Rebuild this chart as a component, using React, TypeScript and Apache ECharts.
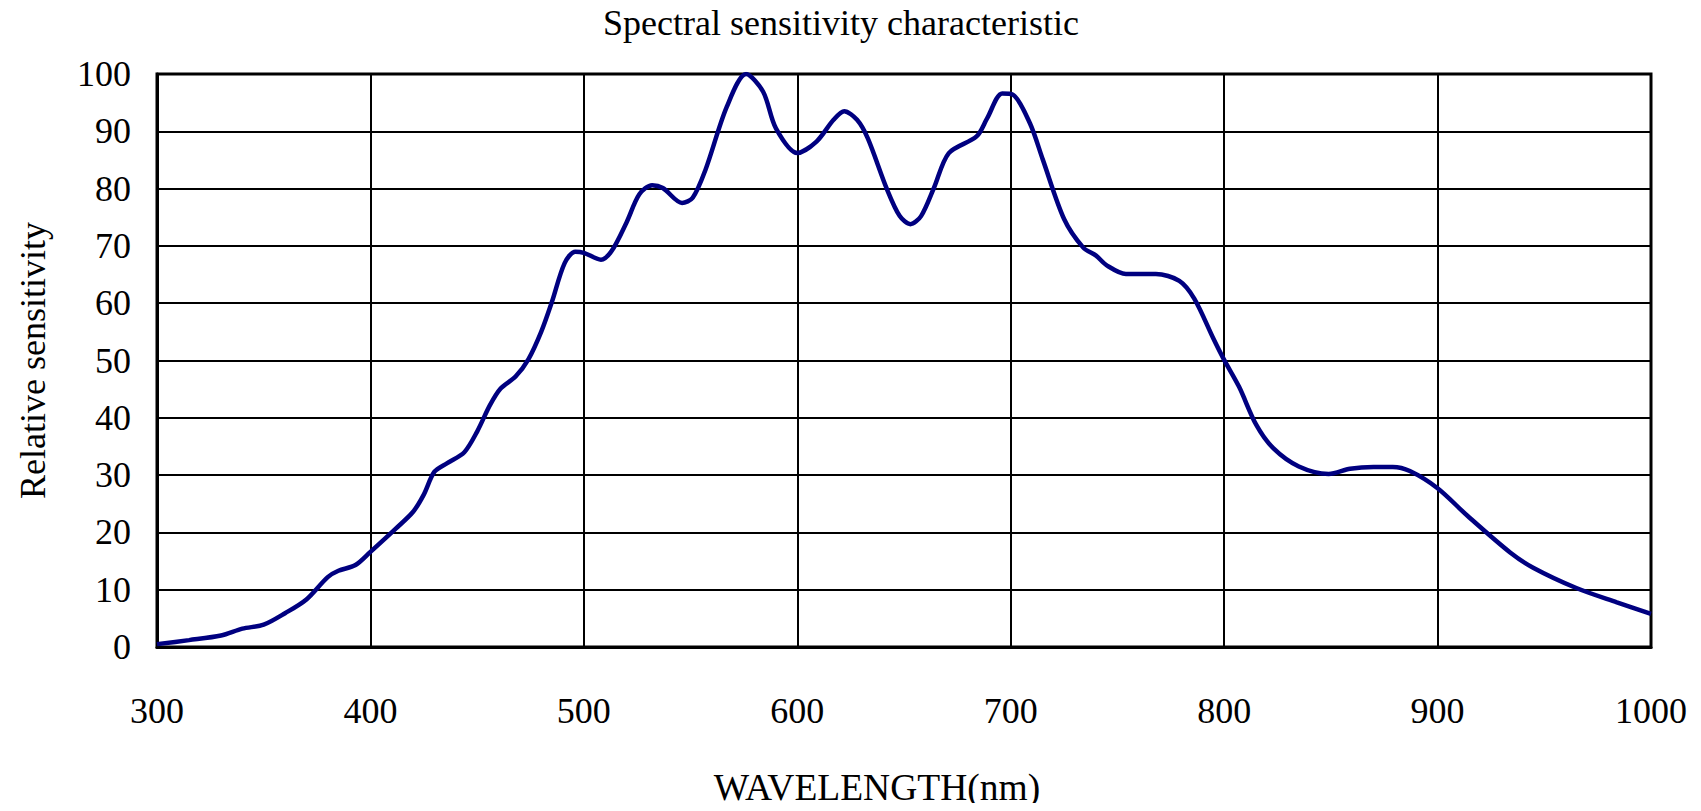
import React, { useEffect, useRef } from "react";
import * as echarts from "echarts";

const titleText = "Spectral sensitivity characteristic";
const xName = "WAVELENGTH(nm)";
const yName = "Relative sensitivity";

const wavelengths = [
  300, 315, 330, 340, 350, 360, 370, 380, 385, 393, 400, 412, 420, 425, 430, 436, 444, 450, 456, 461,
  468, 474, 480, 485, 491, 496, 500, 508, 513, 520, 526, 532, 537, 546, 551, 557, 567, 576, 584, 590,
  600, 609, 617, 622, 628, 633, 642, 648, 653, 658, 664, 671, 684, 689, 696, 701, 709, 715, 725, 734,
  740, 745, 754, 768, 779, 786, 795, 800, 807, 815, 823, 835, 849, 859, 870, 879, 887, 900, 914, 934,
  945, 965, 984, 1000,
];
const sensitivity = [
  0.5, 1.2, 2.0, 3.2, 3.9, 5.9, 8.3, 12.2, 13.3, 14.3, 16.6, 20.7, 23.6, 26.6, 30.6, 32.1, 34.0, 37.6, 42.2, 45.1,
  47.2, 50.2, 55.0, 60.2, 67.0, 69.0, 68.8, 67.6, 69.1, 74.1, 79.0, 80.6, 80.1, 77.5, 78.4, 83.3, 94.3, 100, 96.9, 90.5,
  86.2, 88.2, 92.0, 93.5, 92.0, 88.8, 79.9, 75.2, 73.8, 75.2, 80.1, 86.2, 89.1, 92.3, 96.6, 96.4, 91.4, 85.1, 74.7, 69.7,
  68.3, 66.6, 65.1, 65.1, 63.9, 60.8, 53.8, 50.1, 45.4, 38.8, 34.7, 31.5, 30.2, 31.1, 31.4, 31.4, 30.7, 27.7, 22.9, 16.5,
  13.8, 10.3, 7.8, 5.8,
];

const FONT = "'Liberation Serif', 'Times New Roman', serif";

export default function App() {
  const ref = useRef<HTMLDivElement>(null);
  useEffect(() => {
    if (!ref.current) return;
    const chart = echarts.init(ref.current, null, { renderer: "svg" });
    const data = wavelengths.map((w, i) => [w, sensitivity[i]]);
    chart.setOption({
      animation: false,
      backgroundColor: "#ffffff",
      title: {
        text: titleText,
        left: 836,
        textAlign: "center",
        top: 0,
        textStyle: { fontFamily: FONT, fontSize: 36, fontWeight: "normal", color: "#000" },
      },
      grid: { left: 157, top: 74, right: 50, bottom: 161, show: true, borderColor: "#000", borderWidth: 3 },
      xAxis: {
        type: "value",
        min: 300,
        max: 1000,
        interval: 100,
        name: xName,
        nameLocation: "middle",
        nameGap: 121,
        nameTextStyle: { fontFamily: FONT, fontSize: 37.5, color: "#000", padding: [0, 54, 0, 0] },
        axisLine: { lineStyle: { color: "#000", width: 3 } },
        axisTick: { show: false },
        axisLabel: {
          fontFamily: FONT,
          fontSize: 36,
          color: "#000",
          margin: 46,
          formatter: (v: number) => String(v),
        },
        splitLine: { show: true, lineStyle: { color: "#000", width: 2 } },
      },
      yAxis: {
        type: "value",
        min: 0,
        max: 100,
        interval: 10,
        name: yName,
        nameLocation: "middle",
        nameGap: 106,
        nameTextStyle: { fontFamily: FONT, fontSize: 36, color: "#000" },
        axisLine: { show: true, lineStyle: { color: "#000", width: 3 } },
        axisTick: { show: false },
        axisLabel: {
          fontFamily: FONT,
          fontSize: 36,
          color: "#000",
          margin: 26,
          formatter: (v: number) => String(v),
        },
        splitLine: { show: true, lineStyle: { color: "#000", width: 2 } },
      },
      series: [
        {
          type: "line",
          data,
          smooth: 0.3,
          showSymbol: false,
          lineStyle: { color: "#000080", width: 4.5 },
        },
      ],
    });
    return () => chart.dispose();
  }, []);
  return <div ref={ref} style={{ width: 1701, height: 811, margin: -8 }} />;
}
